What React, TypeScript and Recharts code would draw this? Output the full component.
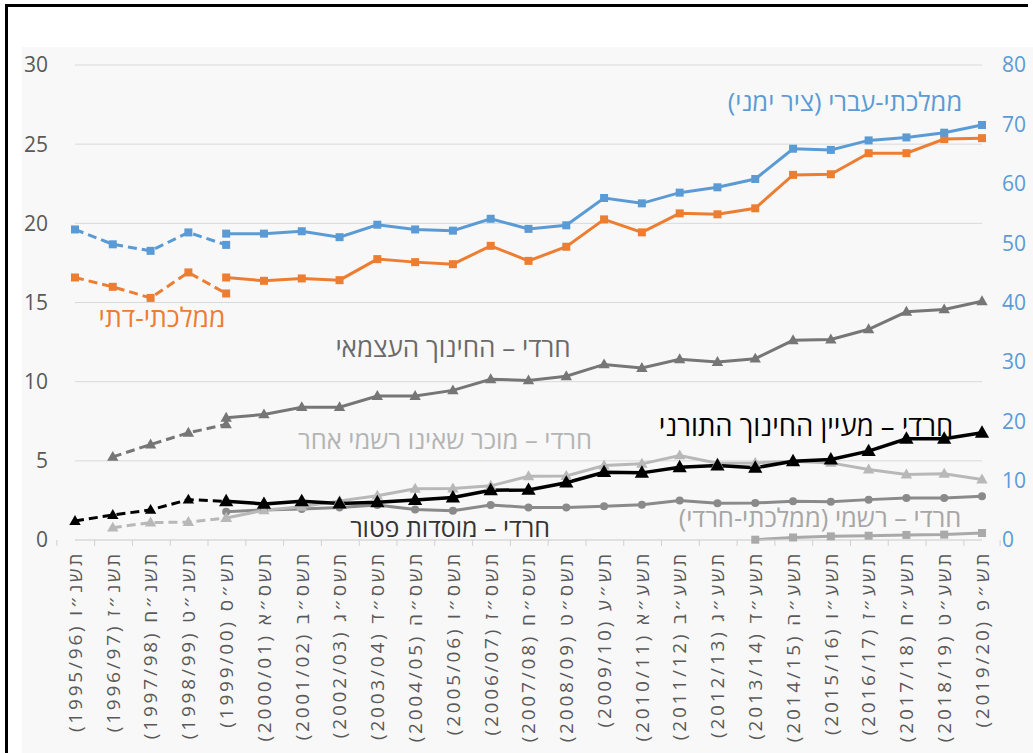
import React from "react";
import { ComposedChart, Line, XAxis, YAxis, CartesianGrid } from "recharts";

const categories = [
  "(1995/96) תשנ״ו", "(1996/97) תשנ״ז", "(1997/98) תשנ״ח", "(1998/99) תשנ״ט", "(1999/00) תש״ס",
  "(2000/01) תשס״א", "(2001/02) תשס״ב", "(2002/03) תשס״ג", "(2003/04) תשס״ד", "(2004/05) תשס״ה",
  "(2005/06) תשס״ו", "(2006/07) תשס״ז", "(2007/08) תשס״ח", "(2008/09) תשס״ט", "(2009/10) תש״ע",
  "(2010/11) תשע״א", "(2011/12) תשע״ב", "(2012/13) תשע״ג", "(2013/14) תשע״ד", "(2014/15) תשע״ה",
  "(2015/16) תשע״ו", "(2016/17) תשע״ז", "(2017/18) תשע״ח", "(2018/19) תשע״ט", "(2019/20) תש״פ",
];

const _ = null;

// state hebrew – right axis
const stateDashed = [52.3, 49.8, 48.7, 51.8, 49.7, _, _, _, _, _, _, _, _, _, _, _, _, _, _, _, _, _, _, _, _];
const stateSolid = [_, _, _, _, 51.6, 51.6, 52.0, 51.0, 53.1, 52.3, 52.1, 54.1, 52.4, 53.0, 57.6, 56.7, 58.5, 59.4, 60.8, 65.9, 65.7, 67.3, 67.8, 68.6, 69.9];

// state religious – left axis
const religDashed = [16.58, 15.99, 15.29, 16.9, 15.57, _, _, _, _, _, _, _, _, _, _, _, _, _, _, _, _, _, _, _, _];
const religSolid = [_, _, _, _, 16.58, 16.37, 16.52, 16.41, 17.74, 17.55, 17.42, 18.58, 17.63, 18.52, 20.25, 19.43, 20.63, 20.57, 20.95, 23.06, 23.1, 24.43, 24.43, 25.32, 25.38];

// haredi – independent education
const indepDashed = [_, 5.25, 6.03, 6.77, 7.3, _, _, _, _, _, _, _, _, _, _, _, _, _, _, _, _, _, _, _, _];
const indepSolid = [_, _, _, _, 7.72, 7.93, 8.39, 8.39, 9.09, 9.09, 9.45, 10.15, 10.08, 10.34, 11.09, 10.86, 11.41, 11.24, 11.45, 12.61, 12.66, 13.31, 14.41, 14.56, 15.08];

// haredi – maayan hachinuch hatorani
const maayanDashed = [1.2, 1.58, 1.9, 2.55, 2.44, _, _, _, _, _, _, _, _, _, _, _, _, _, _, _, _, _, _, _, _];
const maayanSolid = [_, _, _, _, 2.44, 2.28, 2.44, 2.3, 2.38, 2.52, 2.68, 3.14, 3.16, 3.62, 4.28, 4.24, 4.59, 4.7, 4.56, 4.97, 5.08, 5.61, 6.39, 6.39, 6.77];

// haredi – recognized unofficial, other
const recogDashed = [_, 0.78, 1.1, 1.13, 1.39, _, _, _, _, _, _, _, _, _, _, _, _, _, _, _, _, _, _, _, _];
const recogSolid = [_, _, _, _, 1.39, 1.88, 2.1, 2.47, 2.8, 3.23, 3.25, 3.42, 4.02, 4.04, 4.7, 4.81, 5.34, 4.85, 4.87, 4.97, 4.87, 4.45, 4.13, 4.18, 3.82];

// haredi – exempt institutions
const exempt = [_, _, _, _, 1.79, 1.9, 1.96, 2.06, 2.21, 1.92, 1.85, 2.21, 2.06, 2.06, 2.13, 2.23, 2.49, 2.32, 2.34, 2.44, 2.42, 2.55, 2.66, 2.66, 2.76];

// haredi – official (state haredi)
const official = [_, _, _, _, _, _, _, _, _, _, _, _, _, _, _, _, _, _, 0.02, 0.16, 0.23, 0.27, 0.32, 0.34, 0.44];

const leftTicks = [0, 5, 10, 15, 20, 25, 30];
const rightTicks = [0, 10, 20, 30, 40, 50, 60, 70, 80];

const data = categories.map((cat, i) => ({
  cat,
  stateDashed: stateDashed[i],
  stateSolid: stateSolid[i],
  religDashed: religDashed[i],
  religSolid: religSolid[i],
  indepDashed: indepDashed[i],
  indepSolid: indepSolid[i],
  maayanDashed: maayanDashed[i],
  maayanSolid: maayanSolid[i],
  recogDashed: recogDashed[i],
  recogSolid: recogSolid[i],
  exempt: exempt[i],
  official: official[i],
}));

const BLUE = "#5b9bd5";
const ORANGE = "#ed7d31";
const DARK = "#767676";
const LIGHT = "#b8b8b8";
const MID = "#8a8a8a";
const OFFICIAL = "#a9a9a9";
const FONT = "'Open Sans', 'DejaVu Sans', sans-serif";

const square = (size: number, fill: string) => (p: any) => {
  const { cx, cy, index } = p;
  if (cx == null || cy == null || p.value == null) return <g key={index} />;
  return <rect key={index} x={cx - size / 2} y={cy - size / 2} width={size} height={size} fill={fill} />;
};

const triangle = (s: number, fill: string) => (p: any) => {
  const { cx, cy, index } = p;
  if (cx == null || cy == null || p.value == null) return <g key={index} />;
  return (
    <polygon
      key={index}
      points={`${cx},${cy - s} ${cx - s * 0.95},${cy + s * 0.65} ${cx + s * 0.95},${cy + s * 0.65}`}
      fill={fill}
    />
  );
};

const circle = (r: number, fill: string) => (p: any) => {
  const { cx, cy, index } = p;
  if (cx == null || cy == null || p.value == null) return <g key={index} />;
  return <circle key={index} cx={cx} cy={cy} r={r} fill={fill} />;
};

const CategoryTick = (props: any) => {
  const { x, y, payload, index } = props;
  const half = payload && payload.offset ? payload.offset : 18.14;
  return (
    <g>
      <line x1={x - half} x2={x - half} y1={y} y2={y + 6} stroke="#d0d0d0" />
      {index === categories.length - 1 && (
        <line x1={x + half} x2={x + half} y1={y} y2={y + 6} stroke="#d0d0d0" />
      )}
      <text
        x={x}
        y={y + 11}
        transform={`rotate(-90 ${x} ${y + 11})`}
        textAnchor="end"
        dy="0.36em"
        fontSize={19}
        letterSpacing={2.8}
        fill="#595959"
        fontFamily={FONT}
      >
        {payload.value}
      </text>
    </g>
  );
};

const annotations = [
  { text: "ממלכתי-עברי (ציר ימני)", x: 845, y: 101, color: BLUE, size: 25.5 },
  { text: "ממלכתי-דתי", x: 162, y: 317, color: ORANGE, size: 26.5 },
  { text: "חרדי – החינוך העצמאי", x: 453, y: 347, color: "#6a6a6a", size: 26 },
  { text: "חרדי – מעיין החינוך התורני", x: 806, y: 425, color: "#000000", size: 27.5 },
  { text: "חרדי – מוכר שאינו רשמי אחר", x: 445, y: 439, color: "#b4b4b4", size: 25.5 },
  { text: "חרדי – מוסדות פטור", x: 450, y: 527, color: "#333333", size: 25 },
  { text: "חרדי – רשמי (ממלכתי-חרדי)", x: 820, y: 517, color: "#a6a6a6", size: 25.5 },
];

export default function App() {
  const dash = "9 5";
  return (
    <div style={{ position: "absolute", left: 0, top: 0, width: 1033, height: 753, background: "#fff", overflow: "hidden" }}>
      <div style={{ position: "absolute", left: 22, top: 47, right: 0, bottom: 0, background: "#f8f8f8" }} />
      <div style={{ position: "absolute", left: 5, top: 4, width: 1023, height: 3, background: "#000" }} />
      <div style={{ position: "absolute", left: 5, top: 4, width: 3, height: 749, background: "#000" }} />
      <div style={{ position: "absolute", left: 0, top: 0 }}>
        <ComposedChart width={1033} height={753} data={data} margin={{ top: 65, right: 0, bottom: 0, left: 0 }}>
          <CartesianGrid yAxisId="left" vertical={false} stroke="#d9d9d9" />
          <XAxis
            dataKey="cat"
            interval={0}
            height={213}
            tickSize={0}
            tickMargin={0}
            tickLine={false}
            axisLine={{ stroke: "#d9d9d9" }}
            tick={<CategoryTick />}
          />
          <YAxis
            yAxisId="left"
            orientation="left"
            width={75}
            domain={[0, 30]}
            ticks={leftTicks}
            axisLine={false}
            tickLine={false}
            tickSize={0}
            tickMargin={27}
            tick={{ fill: "#595959", fontSize: 21, fontFamily: FONT }}
          />
          <YAxis
            yAxisId="right"
            orientation="right"
            width={51}
            domain={[0, 80]}
            ticks={rightTicks}
            axisLine={false}
            tickLine={false}
            tickSize={0}
            tickMargin={20}
            tick={{ fill: BLUE, fontSize: 21, fontFamily: FONT, textAnchor: "start" }}
          />

          <Line yAxisId="left" dataKey="official" stroke={OFFICIAL} strokeWidth={3} dot={square(8, OFFICIAL)} isAnimationActive={false} />
          <Line yAxisId="left" dataKey="exempt" stroke={MID} strokeWidth={3} dot={circle(4, MID)} isAnimationActive={false} />
          <Line yAxisId="left" dataKey="recogDashed" stroke={LIGHT} strokeWidth={3} strokeDasharray={dash} dot={triangle(6, LIGHT)} isAnimationActive={false} />
          <Line yAxisId="left" dataKey="recogSolid" stroke={LIGHT} strokeWidth={3} dot={triangle(6, LIGHT)} isAnimationActive={false} />
          <Line yAxisId="left" dataKey="maayanDashed" stroke="#000" strokeWidth={3} strokeDasharray={dash} dot={triangle(6, "#000")} isAnimationActive={false} />
          <Line yAxisId="left" dataKey="maayanSolid" stroke="#000" strokeWidth={3.5} dot={triangle(7.5, "#000")} isAnimationActive={false} />
          <Line yAxisId="left" dataKey="indepDashed" stroke={DARK} strokeWidth={3} strokeDasharray={dash} dot={triangle(6, DARK)} isAnimationActive={false} />
          <Line yAxisId="left" dataKey="indepSolid" stroke={DARK} strokeWidth={3} dot={triangle(6, DARK)} isAnimationActive={false} />
          <Line yAxisId="left" dataKey="religDashed" stroke={ORANGE} strokeWidth={3} strokeDasharray={dash} dot={square(8, ORANGE)} isAnimationActive={false} />
          <Line yAxisId="left" dataKey="religSolid" stroke={ORANGE} strokeWidth={3} dot={square(8, ORANGE)} isAnimationActive={false} />
          <Line yAxisId="right" dataKey="stateDashed" stroke={BLUE} strokeWidth={3} strokeDasharray={dash} dot={square(8, BLUE)} isAnimationActive={false} />
          <Line yAxisId="right" dataKey="stateSolid" stroke={BLUE} strokeWidth={3} dot={square(8, BLUE)} isAnimationActive={false} />
        </ComposedChart>
      </div>
      <svg width={1033} height={753} style={{ position: "absolute", left: 0, top: 0, pointerEvents: "none" }}>
        {annotations.map((a) => (
          <text
            key={a.text}
            x={a.x}
            y={a.y}
            textAnchor="middle"
            dominantBaseline="central"
            direction="rtl"
            style={{ direction: "rtl", unicodeBidi: "embed" }}
            fontSize={a.size}
            fill={a.color}
            fontFamily={FONT}
          >
            {a.text}
          </text>
        ))}
      </svg>
    </div>
  );
}
